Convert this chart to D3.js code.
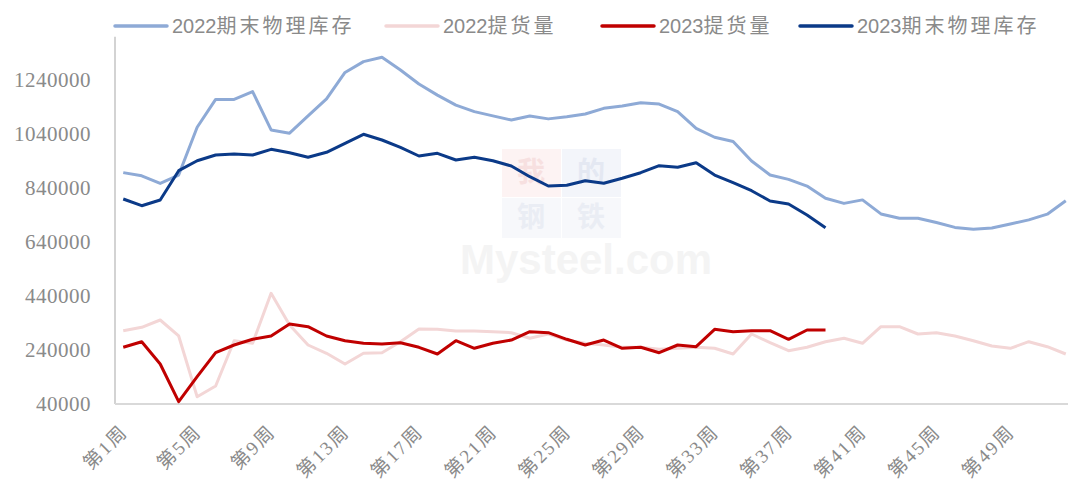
<!DOCTYPE html>
<html>
<head>
<meta charset="utf-8">
<script src="https://cdn.jsdelivr.net/npm/d3@7"></script>
<style>
  body { margin: 0; background: #fff; }
  svg { display: block; }
</style>
</head>
<body>
<div id="container"></div>
<script>
// weeks 1..52
const weeks = d3.range(1, 53).map(d => `第${d}周`);
const tickWeeks = [1, 5, 9, 13, 17, 21, 25, 29, 33, 37, 41, 45, 49].map(d => `第${d}周`);
const yTicks = [40000, 240000, 440000, 640000, 840000, 1040000, 1240000];

const inv2022 = [897000, 885000, 857000, 888000, 1065000, 1168000, 1168000, 1197000, 1055000, 1043000,
    1107000, 1170000, 1268000, 1308000, 1324000, 1277000, 1225000, 1184000, 1147000, 1123000,
    1107000, 1092000, 1107000, 1096000, 1104000, 1114000, 1135000, 1144000, 1156000, 1151000,
    1123000, 1061000, 1028000, 1012000, 940000, 888000, 872000, 847000, 802000, 783000,
    796000, 744000, 728000, 728000, 712000, 694000, 687000, 692000, 707000, 722000, 743000, 793000];

const del2022 = [311500, 324100, 351100, 291900, 67000, 106700, 274400, 264800, 450000, 332600,
    258500, 227800, 188100, 227800, 230000, 270700, 317800, 316600, 310400, 310400,
    307800, 304100, 283300, 299300, 277000, 264800, 258500, 250000, 250000, 242600,
    246300, 250000, 246300, 225200, 299300, 267000, 237400, 250000, 270700, 283300,
    264800, 326300, 326300, 299300, 304100, 291900, 274400, 254800, 246300, 270700, 252200, 225200];

const del2023 = [250000, 270700, 188100, 48500, 141100, 230000, 258500, 279600, 291900, 336300,
    326300, 291900, 274400, 264800, 262200, 267000, 250000, 225200, 274400, 246300,
    264800, 277000, 307800, 304100, 279600, 258500, 277000, 246300, 250000, 230000,
    258500, 252200, 316600, 307800, 311500, 311500, 279600, 314100, 314100];

const inv2023 = [799300, 774400, 795600, 904100, 941100, 962200, 965900, 962200, 983300, 970700,
    953700, 972200, 1005600, 1038900, 1017800, 990700, 958500, 968500, 943700, 953700,
    941100, 921500, 881900, 847400, 850000, 867100, 857400, 875900, 896700, 922600,
    916700, 933700, 888100, 859600, 830000, 791900, 780700, 740000, 693000];

const seriesNames = ['2022期末物理库存', '2022提货量', '2023提货量', '2023期末物理库存'];
const seriesData = [inv2022, del2022, del2023, inv2023];
const seriesColors = ['#8eaad6', '#f3d6d6', '#c00000', '#0b3a88'];

const w = 1068;
const h = 482;

const svg = d3.select('#container').append('svg')
    .attr('width', w)
    .attr('height', h);

const xScale = d3.scalePoint()
    .domain(weeks)
    .range([114, 1075])
    .padding(0.5);

const yScale = d3.scaleLinear()
    .domain([40000, 1440000])
    .range([404, 26]);

const textColor = '#8a8a8a';

// watermark
const wm = svg.append('g').attr('class', 'watermark');
wm.append('rect').attr('x', 502).attr('y', 149).attr('width', 59).attr('height', 48).attr('fill', '#fdf3f3');
wm.append('rect').attr('x', 562).attr('y', 149).attr('width', 59).attr('height', 48).attr('fill', '#f3f5fa');
wm.append('rect').attr('x', 502).attr('y', 198).attr('width', 59).attr('height', 40).attr('fill', '#f7f8fb');
wm.append('rect').attr('x', 562).attr('y', 198).attr('width', 59).attr('height', 40).attr('fill', '#f7f8fb');
[['我', 531, 182, '#f7e0e0'], ['的', 591, 182, '#e4e8f2'], ['钢', 531, 227, '#eaedf4'], ['铁', 591, 227, '#eaedf4']]
    .forEach(([t, x, y, c]) => {
        wm.append('text').attr('x', x).attr('y', y).attr('text-anchor', 'middle')
            .attr('font-family', '"Noto Sans CJK SC"').attr('font-size', 28).attr('font-weight', 700)
            .attr('fill', c).text(t);
    });
wm.append('text').attr('x', 586).attr('y', 274).attr('text-anchor', 'middle')
    .attr('font-family', '"Liberation Sans", Arial').attr('font-size', 42).attr('font-weight', 700)
    .attr('fill', '#f4f4f4').text('Mysteel.com');

// y axis
const yAxis = d3.axisLeft(yScale)
    .tickValues(yTicks)
    .tickSize(0)
    .tickPadding(24)
    .tickFormat(d => d);

svg.append('g')
    .attr('id', 'y-axis')
    .attr('transform', 'translate(115, 0)')
    .call(yAxis)
    .call(g => g.select('.domain').remove())
    .selectAll('text')
    .attr('font-family', '"Liberation Serif", "Times New Roman", serif')
    .attr('font-size', 21)
    .attr('letter-spacing', 0.5)
    .attr('fill', textColor);

svg.append('line')
    .attr('x1', 115).attr('x2', 115)
    .attr('y1', yScale(1400000)).attr('y2', yScale(40000))
    .attr('stroke', '#c4c4c4').attr('stroke-width', 1.5);

// x axis: ticks from the axis, labels rotated by hand
const xAxis = d3.axisBottom(xScale)
    .tickValues(tickWeeks)
    .tickSize(0)
    .tickFormat('');

const xg = svg.append('g')
    .attr('id', 'x-axis')
    .attr('transform', 'translate(0, 404)')
    .call(xAxis)
    .call(g => g.select('.domain').remove());

xg.selectAll('.tick text').remove();

xg.selectAll('.tick')
    .append('g')
    .attr('transform', 'translate(5, 29) rotate(-45)')
    .append('text')
    .attr('text-anchor', 'end')
    .attr('font-family', '"Liberation Serif", "Noto Sans CJK SC", serif')
    .attr('font-size', 19)
    .attr('letter-spacing', 2)
    .attr('fill', textColor)
    .text(d => d);

svg.append('line')
    .attr('x1', 115).attr('x2', w)
    .attr('y1', 404).attr('y2', 404)
    .attr('stroke', '#d9d9d9').attr('stroke-width', 2);

// lines
const line = d3.line()
    .x((d, i) => xScale(weeks[i]))
    .y(d => yScale(d));

svg.selectAll('.series')
    .data(seriesData)
    .enter()
    .append('path')
    .attr('class', 'series')
    .attr('d', d => line(d))
    .attr('fill', 'none')
    .attr('stroke', (d, i) => seriesColors[i])
    .attr('stroke-width', 3)
    .attr('stroke-linejoin', 'round');

// legend
const legendX = [115, 386, 602, 800];
const legend = svg.append('g').attr('id', 'legend');
seriesNames.forEach((name, i) => {
    const g = legend.append('g').attr('transform', `translate(${legendX[i]}, 26)`);
    g.append('line')
        .attr('x1', 0).attr('x2', 52)
        .attr('stroke', seriesColors[i])
        .attr('stroke-width', 3.5)
        .attr('stroke-linecap', 'round');
    const t = g.append('text')
        .attr('x', 57).attr('y', 0).attr('dy', '0.36em')
        .attr('font-size', 20)
        .attr('fill', textColor);
    t.append('tspan').attr('font-family', '"Liberation Sans Narrow", "Liberation Sans", Arial')
        .text(name.slice(0, 4));
    t.append('tspan').attr('font-family', '"Noto Sans CJK SC"')
        .attr('letter-spacing', 3)
        .text(name.slice(4));
});
</script>
</body>
</html>
